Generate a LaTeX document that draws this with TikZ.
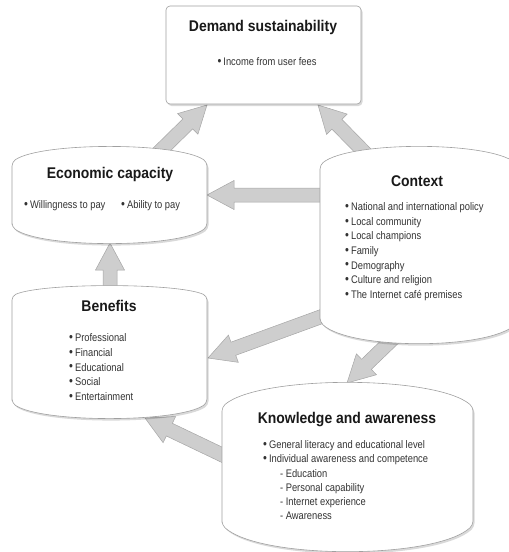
\documentclass[tikz,border=0pt]{standalone}
\usepackage{fontspec}
\setmainfont{Liberation Sans}
\newfontfamily\titlefont[FakeStretch=0.9]{Liberation Sans}
\newfontfamily\bodyfont[FakeStretch=0.85]{Liberation Sans}
\usetikzlibrary{calc,shadows}
\definecolor{arrowfill}{HTML}{CECECE}
\definecolor{arrowline}{HTML}{A6A6A6}
\definecolor{boxline}{HTML}{A0A0A0}
\definecolor{bodytext}{HTML}{333333}
\newcommand\bul{\raisebox{0.2pt}{\fontsize{13}{13}\selectfont •}\hspace{2pt}}
\tikzset{
  boxshape/.style={draw=boxline, line width=0.6pt, fill=white,
    drop shadow={shadow xshift=1.5pt, shadow yshift=-2pt, opacity=0.15, fill=black}},
  blockarrowstyle/.style={fill=arrowfill, draw=arrowline, line width=0.5pt, line join=miter},
  titletext/.style={font=\titlefont\bfseries\fontsize{15.5}{18}\selectfont, text=black!90, inner sep=0pt, anchor=mid},
  itemtext/.style={font=\bodyfont\fontsize{11}{14}\selectfont, text=bodytext, inner sep=0pt, anchor=mid west},
}
% barrel: L R Tcorner Tcenter Bcorner Bcenter
\newcommand\barrel[6]{%
  \pgfmathsetmacro\bkx{0.15*(#2-#1)}%
  \pgfmathsetmacro\bht{#3-4/3*(#3-#4)}%
  \pgfmathsetmacro\bhb{#5+4/3*(#6-#5)}%
  \draw[boxshape, rounded corners=4pt] (#1,#5) -- (#1,#3)
    .. controls (#1+\bkx,\bht) and (#2-\bkx,\bht) .. (#2,#3) -- (#2,#5)
    .. controls (#2-\bkx,\bhb) and (#1+\bkx,\bhb) .. (#1,#5) -- cycle;
}
\newcommand\blockarrow[2]{%
  \coordinate (ba-c) at ($(#2)!27pt!(#1)$);
  \draw[blockarrowstyle] ($(#1)!7pt!90:(#2)$) -- ($(ba-c)!7pt!-90:(#1)$)
    -- ($(ba-c)!14.5pt!-90:(#1)$) -- (#2) -- ($(ba-c)!14.5pt!90:(#1)$)
    -- ($(ba-c)!7pt!90:(#1)$) -- ($(#1)!7pt!-90:(#2)$) -- cycle;
}
\begin{document}
\begin{tikzpicture}[x=1pt, y=-1pt]
\useasboundingbox (0,0) rectangle (509,552);
\clip (0,0) rectangle (509,552);
% connector end points
\coordinate (econ-up) at (150,161);
\coordinate (dem-sw) at (207,105);
\coordinate (ctx-up) at (374,162);
\coordinate (dem-se) at (318,105);
\coordinate (ctx-w) at (335,195);
\coordinate (econ-e) at (207,195);
\coordinate (ben-n) at (110,300);
\coordinate (econ-s) at (110,243);
\coordinate (ctx-sw) at (334,312);
\coordinate (ben-e) at (208,358);
\coordinate (ctx-s) at (400,332);
\coordinate (know-n) at (347,383);
\coordinate (know-w) at (235,461);
\coordinate (ben-se) at (145,418);
% arrows
\blockarrow{econ-up}{dem-sw}
\blockarrow{ctx-up}{dem-se}
\blockarrow{ctx-w}{econ-e}
\blockarrow{ben-n}{econ-s}
\blockarrow{ctx-sw}{ben-e}
\blockarrow{ctx-s}{know-n}
\blockarrow{know-w}{ben-se}
% shapes
\draw[boxshape, rounded corners=4pt] (166,6) rectangle (361,104);
\barrel{12}{207}{162}{147}{227}{243}
\barrel{320}{518}{165}{147}{322}{343}
\barrel{12}{207}{296}{286}{403}{418}
\barrel{222}{473}{407}{383}{525}{551}
% texts
\node[titletext] (dem-title) at (263,28.5) {Demand sustainability};
\node[itemtext, anchor=mid] (dem-1) at (267,63) {\bul Income from user fees};
\node[titletext] (econ-title) at (110,175.5) {Economic capacity};
\node[itemtext] (econ-1) at (24,206) {\bul Willingness to pay};
\node[itemtext] (econ-2) at (121,206) {\bul Ability to pay};
\node[titletext] (ctx-title) at (417,183.5) {Context};
\foreach \t [count=\i from 0] in {National and international policy, Local community, Local champions, Family, Demography, Culture and religion, The Internet café premises}
  \node[itemtext] (ctx-\i) at (345,208+14.6*\i) {\bul\t};
\node[titletext] (ben-title) at (109,308.5) {Benefits};
\foreach \t [count=\i from 0] in {Professional, Financial, Educational, Social, Entertainment}
  \node[itemtext] (ben-\i) at (69,339+14.7*\i) {\bul\t};
\node[titletext] (know-title) at (347,420.5) {Knowledge and awareness};
\node[itemtext] (know-1) at (263,446) {\bul General literacy and educational level};
\node[itemtext] (know-2) at (263,460.2) {\bul Individual awareness and competence};
\foreach \t [count=\i from 0] in {Education, Personal capability, Internet experience, Awareness}
  \node[itemtext] (know-s\i) at (280,474.4+14.2*\i) {-\hspace{2.5pt}\t};
\end{tikzpicture}
\end{document}
